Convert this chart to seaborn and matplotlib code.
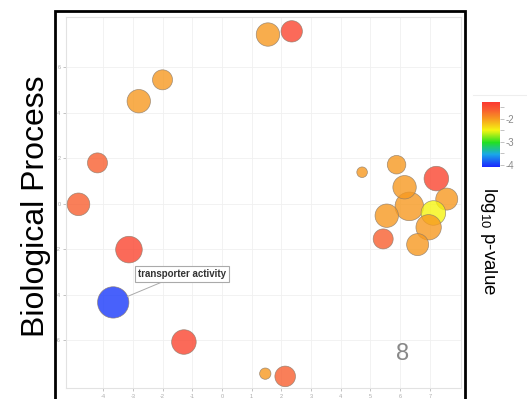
import numpy as np
import pandas as pd
import seaborn as sns
import matplotlib.pyplot as plt
from matplotlib.colors import LinearSegmentedColormap, Normalize
from matplotlib.cm import ScalarMappable
from matplotlib.patches import Rectangle
from matplotlib.lines import Line2D

#   semantic space coordinates of the GO terms
plot_x = [1.55, 2.35, -2.0, -2.8, -4.19, -4.83, -3.13, -3.66, -1.28, 1.46, 2.13,
          4.72, 5.88, 7.22, 6.31, 6.15, 7.57, 7.12, 5.55, 6.96, 5.43, 6.59]
plot_y = [7.43, 7.57, 5.44, 4.5, 1.79, -0.03, -2.02, -4.34, -6.08, -7.47, -7.59,
          1.38, 1.71, 1.1, -0.12, 0.72, 0.2, -0.41, -0.53, -1.04, -1.55, -1.8]
log10_pval = [-2.0, -1.4, -2.0, -2.0, -1.65, -1.65, -1.4, -4.0, -1.4, -2.0, -1.65,
              -2.0, -2.0, -1.4, -2.0, -2.0, -2.0, -2.5, -2.0, -2.0, -1.65, -2.0]
bubble_area = [137, 114, 100, 137, 100, 128, 177, 246, 151, 32, 106,
               28, 86, 151, 204, 137, 121, 151, 137, 161, 100, 121]
x_ticks = list(range(-4, 8))
y_ticks = [-6, -4, -2, 0, 2, 4, 6]

df = pd.DataFrame({'plot_X': plot_x, 'plot_Y': plot_y,
                   'log10_p_value': log10_pval, 'size': bubble_area})

plt.rcParams['font.family'] = ['Liberation Sans', 'DejaVu Sans']
plt.rcParams['axes.unicode_minus'] = False

# red -> yellow -> green -> blue scale
cmap = LinearSegmentedColormap.from_list('pv', [
    (0.0, '#1a22ff'), (0.2, '#1aa8e8'), (0.38, '#22e022'), (0.57, '#f5f512'),
    (0.75, '#f79820'), (0.88, '#f85e30'), (1.0, '#fb3a30')])
vmin, vmax = -4.1, -1.3

fig = plt.figure(figsize=(5.27, 3.99), dpi=100)
ax = fig.add_axes([66/527, 1-388/399, 395/527, 371/399])

k = 2.0736  # px radius^2 -> points^2
sns.scatterplot(data=df, x='plot_X', y='plot_Y', hue='log10_p_value', palette=cmap,
                hue_norm=(vmin, vmax), size='size', sizes=(k*min(bubble_area), k*max(bubble_area)),
                size_norm=(min(bubble_area), max(bubble_area)), alpha=0.8,
                edgecolor='#8a7a6a', linewidth=0.5, legend=False, ax=ax, zorder=3)

ax.set_xlim(-5.25, 8.05)
ax.set_ylim(-8.1, 8.2)
ax.set_xticks(x_ticks)
ax.set_yticks(y_ticks)
ax.set_xlabel('')
ax.set_ylabel('')
ax.tick_params(labelsize=4, colors='#aaaaaa', length=2, width=0.5, pad=2)
ax.grid(True, color='#f0f0f0', lw=0.6)
ax.set_axisbelow(True)
for s in ax.spines.values():
    s.set_color('#e2e2e2')
    s.set_linewidth(0.8)

ax.annotate('transporter activity', xy=(-3.66, -4.34), xytext=(-1.35, -3.08),
            fontsize=7, fontweight='bold', color='#333333', ha='center', va='center',
            bbox=dict(boxstyle='square,pad=0.3', fc='white', ec='#aaaaaa', lw=0.8),
            arrowprops=dict(arrowstyle='-', color='#aaaaaa', lw=0.7, shrinkA=0, shrinkB=11),
            zorder=5)
ax.text(0.852, 0.092, '8', transform=ax.transAxes, fontsize=17, color='#888888',
        ha='center', va='center')

# outer black frame (cut at the bottom)
fig.patches.append(Rectangle((55/527, -0.1), 410/527, 1.1-11/399, transform=fig.transFigure,
                             fill=False, ec='black', lw=2, clip_on=False))

fig.text(36/527, 1-206/399, 'Biological Process', rotation=90, fontsize=23,
         ha='center', va='center')

# colour bar
cax = fig.add_axes([482/527, 1-167.3/399, 18/527, 65/399])
cb = fig.colorbar(ScalarMappable(norm=Normalize(vmin, vmax), cmap=cmap), cax=cax)
cb.outline.set_visible(False)
cb.set_ticks([-4, -3, -2])
cb.set_ticklabels(['-4', '-3', '-2'])
cax.set_yticks([-3.5, -2.5, -1.5], minor=True)
cax.tick_params(which='both', colors='#aaaaaa', labelsize=7, length=3, width=0.5, pad=1)
cax.tick_params(labelcolor='#888888')
fig.add_artist(Line2D([473/527, 1], [1-95/399, 1-95/399], color='#eeeeee', lw=0.8))
fig.text(489/527, 1-241/399, r'$\mathregular{log_{10}}$ p-value', rotation=270,
         fontsize=13.5, ha='center', va='center')

fig.savefig('out.png', dpi=100)
